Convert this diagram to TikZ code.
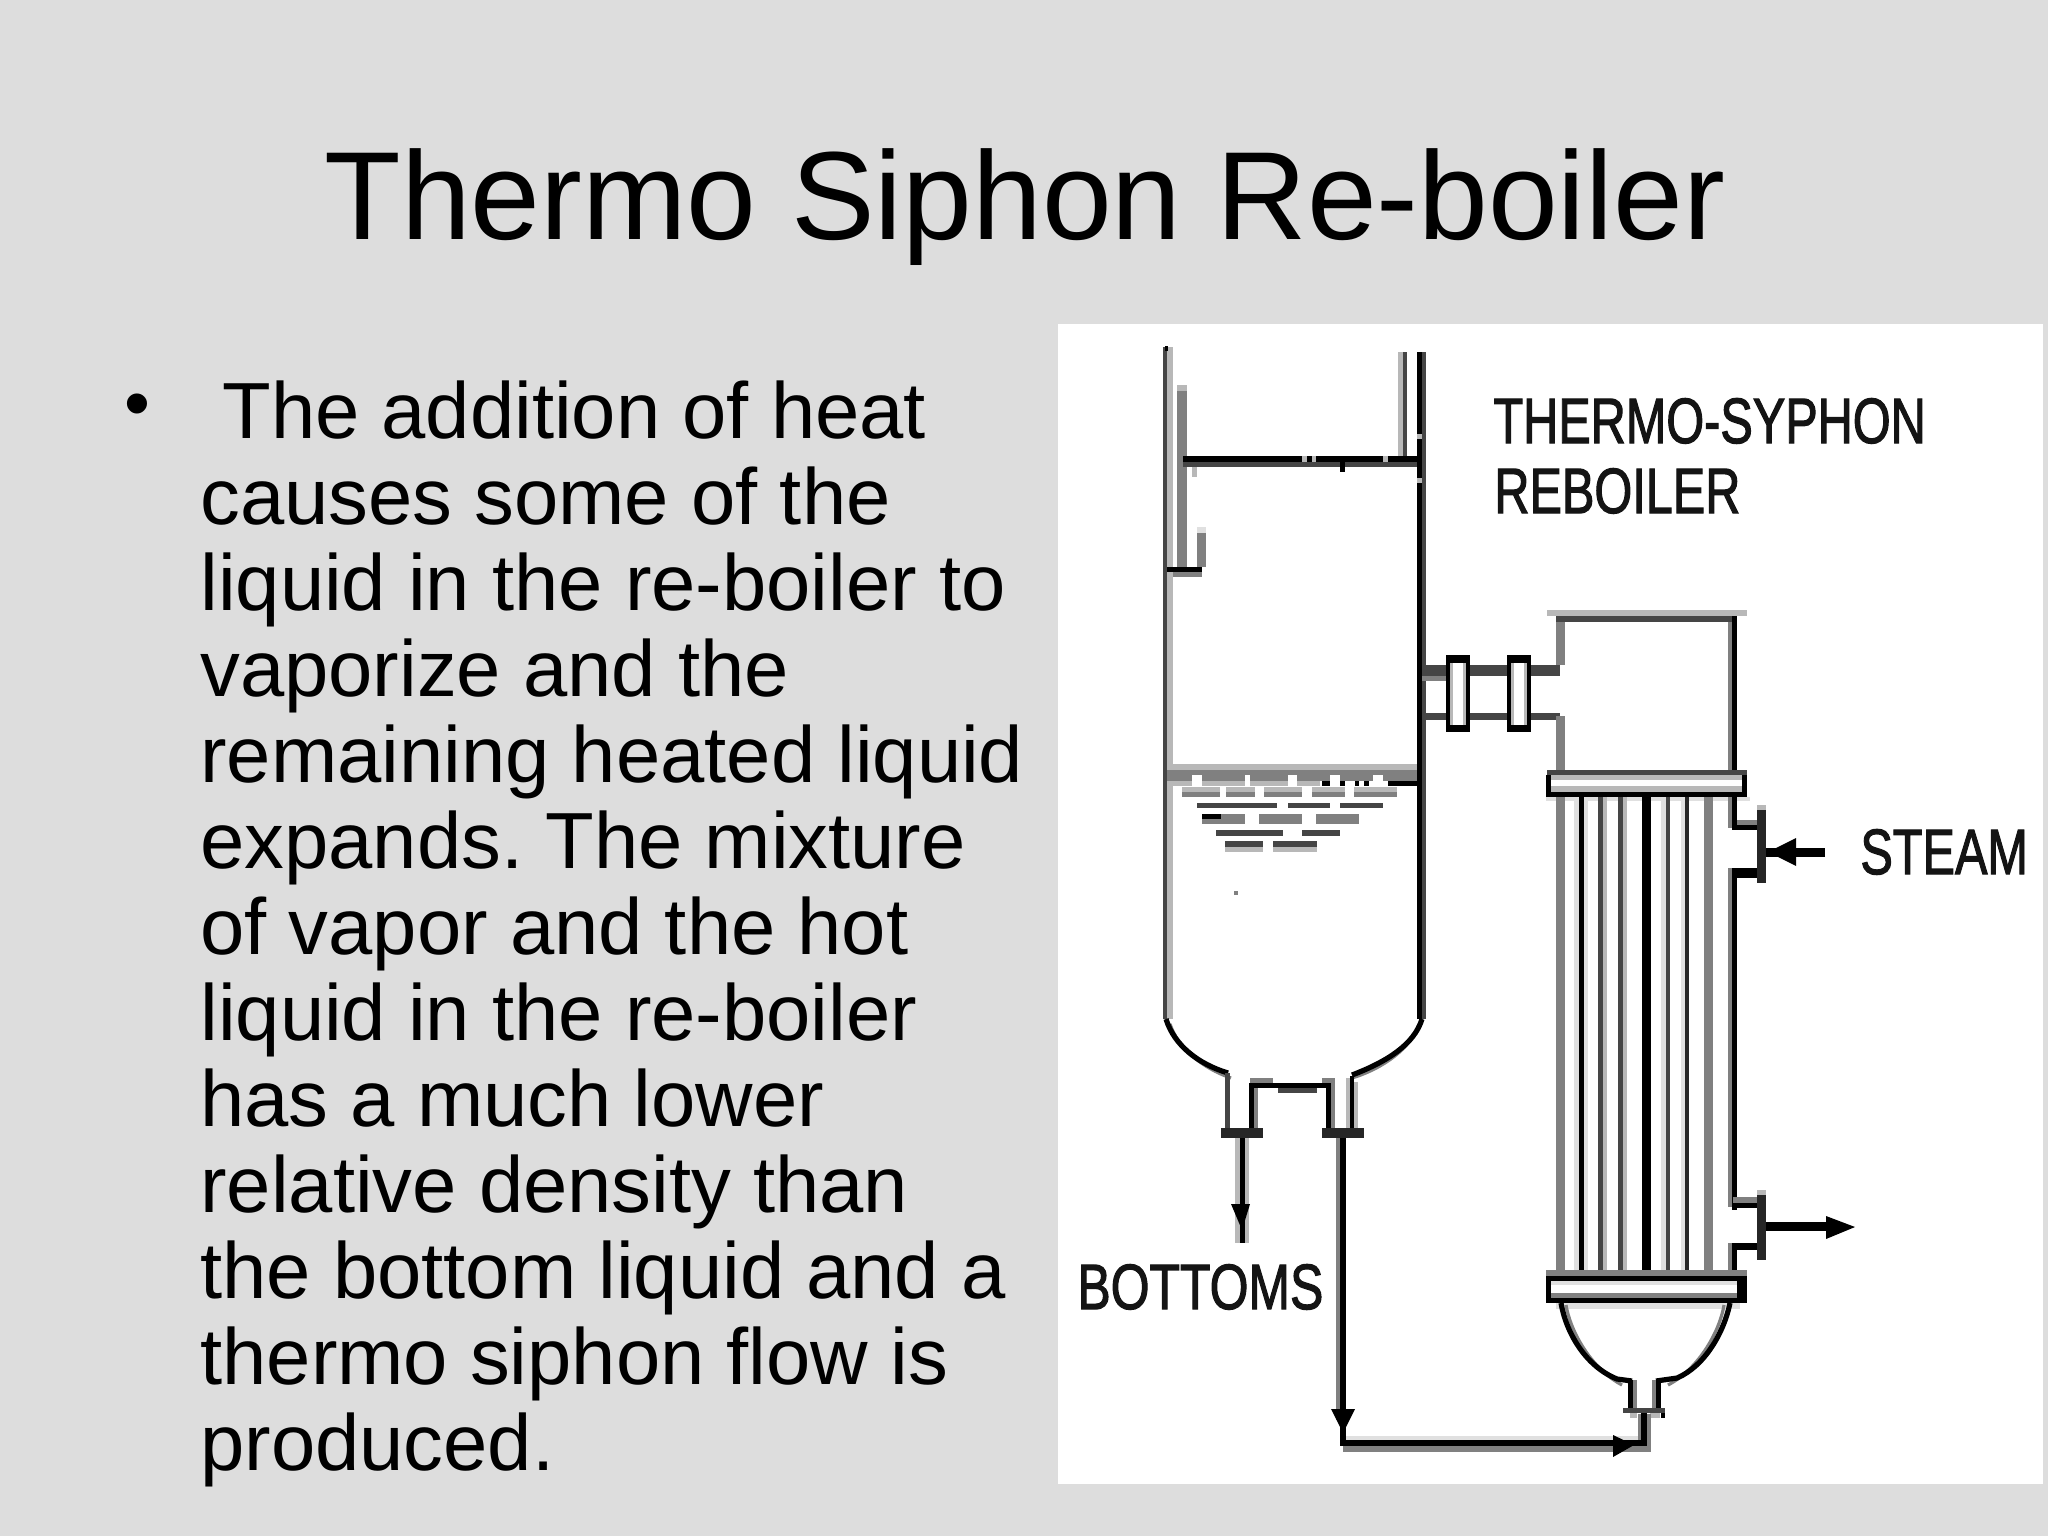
\documentclass[tikz,border=0pt]{standalone}
\usepackage{fontspec}
\usepackage{graphicx}
\setmainfont{Liberation Sans}
\newfontfamily\labfont[FakeBold=2]{Liberation Sans}
\frenchspacing
\definecolor{slidebg}{HTML}{DDDDDD}
\definecolor{darkg}{gray}{0.27}
\definecolor{midg}{gray}{0.50}
\definecolor{lightg}{gray}{0.72}
\definecolor{paleg}{gray}{0.88}
\newcommand{\titlefs}{\fontsize{62.7}{70}\selectfont}
\newcommand{\bodyfs}{\fontsize{39.8}{44}\selectfont}
\newcommand{\labfs}{\fontsize{32}{36}\selectfont\labfont}
\newcommand{\squeezed}[1]{\scalebox{.76}[1]{\labfs #1}}
% filled pixel-aligned block: colour, x1, y1, x2, y2
\newcommand{\blk}[5]{\fill[#1] (#2,#3) rectangle (#4,#5);}
\tikzset{
  bodyline/.style={anchor=base west,inner sep=0pt,font=\bodyfs,text=black},
  lab/.style={anchor=base west,inner sep=0pt,text=black!92},
  curve/.style={draw=black,line width=2.6pt},
  curve shade/.style={draw=midg,line width=1.6pt},
  tip/.style={fill=black,draw=none},
}
\begin{document}
\begin{tikzpicture}[x=0.5pt,y=-0.5pt]
\useasboundingbox (0,0) rectangle (2048,1536);
\fill[slidebg] (0,0) rectangle (2048,1536);
\fill[white] (1058,324) rectangle (2043,1484);

% title and text
\node[anchor=base,inner sep=0pt,font=\titlefs,text=black] (title) at (1025,239) {Thermo Siphon Re-boiler};
\node[inner sep=0pt,font=\fontsize{37}{40}\selectfont,anchor=base] (bullet) at (137,428) {•};
\node[bodyline] (l1) at (222,438) {The addition of heat};
\node[bodyline] (l2) at (200,524) {causes some of the};
\node[bodyline] (l3) at (200,610) {liquid in the re-boiler to};
\node[bodyline] (l4) at (200,696) {vaporize and the};
\node[bodyline] (l5) at (200,782) {remaining heated liquid};
\node[bodyline] (l6) at (200,868) {expands. The mixture};
\node[bodyline] (l7) at (200,954) {of vapor and the hot};
\node[bodyline] (l8) at (200,1040) {liquid in the re-boiler};
\node[bodyline] (l9) at (200,1126) {has a much lower};
\node[bodyline] (l10) at (200,1212) {relative density than};
\node[bodyline] (l11) at (200,1298) {the bottom liquid and a};
\node[bodyline] (l12) at (200,1384) {thermo siphon flow is};
\node[bodyline] (l13) at (200,1470) {produced.};

% labels
\node[lab] (lthermo) at (1493,443) {\squeezed{THERMO-SYPHON}};
\node[lab] (lreb) at (1494,513) {\squeezed{REBOILER}};
\node[lab] (lsteam) at (1860,874) {\squeezed{STEAM}};
\node[lab] (lbot) at (1077,1309) {\scalebox{.78}[1]{\labfs BOTTOMS}};

% column walls
\blk{darkg}{1163}{347}{1167}{1019}
\blk{lightg}{1167}{347}{1173}{1019}
\blk{black}{1165}{346}{1168}{351}
\blk{black}{1417}{352}{1422}{1019}
\blk{darkg}{1422}{352}{1426}{1019}
\blk{lightg}{1417}{434}{1422}{439}
\blk{lightg}{1417}{478}{1422}{483}
\blk{lightg}{1398}{352}{1403}{456}
\blk{darkg}{1403}{352}{1407}{456}
% weir, tray
\blk{lightg}{1177}{385}{1187}{391}
\blk{midg}{1177}{391}{1187}{567}
\blk{paleg}{1197}{527}{1206}{533}
\blk{midg}{1197}{533}{1206}{567}
\blk{black}{1167}{567}{1202}{572}
\blk{midg}{1173}{572}{1202}{577}
\blk{black}{1183}{456}{1417}{462}
\blk{darkg}{1183}{462}{1417}{467}
\blk{lightg}{1302}{456}{1307}{462}
\blk{lightg}{1312}{456}{1316}{462}
\blk{lightg}{1383}{456}{1388}{462}
\blk{lightg}{1192}{467}{1197}{477}
\blk{black}{1340}{462}{1345}{472}

% column bottom head
\draw[curve shade] (1170,1024) .. controls (1178,1048) and (1202,1068) .. (1231,1078);
\draw[curve shade] (1419,1024) .. controls (1411,1048) and (1384,1068) .. (1352,1078);
\draw[curve] (1166,1019) .. controls (1174,1045) and (1198,1064) .. (1228,1073);
\draw[curve] (1422,1019) .. controls (1414,1045) and (1386,1062) .. (1352,1075);
% bottom nozzles
\blk{darkg}{1225}{1073}{1230}{1128}
\blk{black}{1249}{1083}{1254}{1128}
\blk{midg}{1254}{1088}{1258}{1128}
\blk{midg}{1250}{1078}{1273}{1083}
\blk{black}{1250}{1083}{1331}{1088}
\blk{darkg}{1278}{1088}{1317}{1093}
\blk{midg}{1322}{1078}{1335}{1083}
\blk{black}{1326}{1083}{1331}{1128}
\blk{midg}{1331}{1083}{1335}{1128}
\blk{lightg}{1346}{1078}{1350}{1128}
\blk{black}{1350}{1076}{1354}{1128}
\blk{lightg}{1354}{1082}{1358}{1128}
\blk{black!85}{1221}{1128}{1263}{1138}
\blk{black!85}{1322}{1128}{1364}{1138}

% liquid level
\blk{lightg}{1167}{764}{1417}{770}
\blk{midg}{1167}{770}{1417}{781}
\blk{lightg}{1173}{781}{1320}{786}
\blk{black}{1388}{781}{1418}{786}
\foreach \a/\b in {1322/1330,1340/1345,1355/1359,1364/1369}
  {\blk{black}{\a}{781}{\b}{786}}
\foreach \a/\b in {1192/1202,1245/1250,1288/1297,1330/1340,1373/1383}
  {\blk{white}{\a}{775}{\b}{786}}
\foreach \a/\b in {1182/1220,1226/1255,1264/1302,1312/1345,1354/1397}
  {\blk{lightg}{\a}{787}{\b}{792}\blk{midg}{\a}{792}{\b}{797}}
\foreach \a/\b in {1197/1277,1288/1330,1340/1383}
  {\blk{darkg}{\a}{803}{\b}{808}}
\foreach \a/\b in {1202/1245,1259/1302,1316/1359}
  {\blk{midg}{\a}{814}{\b}{824}}
\blk{black}{1202}{814}{1221}{819}
\foreach \a/\b in {1216/1283,1302/1340}
  {\blk{darkg}{\a}{830}{\b}{836}}
\foreach \a/\b in {1225/1263,1273/1317}
  {\blk{darkg}{\a}{841}{\b}{847}\blk{lightg}{\a}{847}{\b}{852}}
\blk{midg}{1234}{891}{1238}{895}

% connecting nozzle and flanges
\blk{darkg}{1422}{665}{1560}{676}
\blk{midg}{1422}{676}{1446}{681}
\blk{darkg}{1422}{713}{1560}{720}
\foreach \a in {1446,1507}{
  \blk{black}{\a}{655}{\a+24}{732}
  \blk{lightg}{\a+4}{663}{\a+20}{725}
  \blk{white}{\a+7}{663}{\a+17}{725}
}

% reboiler channel
\blk{lightg}{1547}{610}{1747}{616}
\blk{darkg}{1556}{616}{1737}{622}
\blk{midg}{1556}{622}{1565}{665}
\blk{midg}{1556}{716}{1565}{770}
\blk{midg}{1728}{622}{1732}{770}
\blk{black}{1732}{616}{1737}{775}

% upper tube sheet
\blk{darkg}{1547}{770}{1747}{775}
\blk{lightg}{1547}{775}{1747}{780}
\blk{white}{1551}{780}{1742}{786}
\blk{lightg}{1551}{786}{1742}{792}
\blk{black}{1546}{775}{1551}{797}
\blk{black}{1742}{775}{1747}{797}
\blk{black}{1546}{792}{1747}{797}
\blk{paleg}{1546}{797}{1750}{801}

% tubes
\blk{midg}{1556}{797}{1565}{1270}
\blk{paleg}{1574}{797}{1579}{1276}
\blk{black}{1579}{797}{1584}{1276}
\blk{paleg}{1584}{797}{1588}{1276}
\blk{darkg}{1598}{797}{1603}{1276}
\blk{lightg}{1603}{797}{1607}{1276}
\blk{darkg}{1618}{797}{1623}{1276}
\blk{lightg}{1623}{797}{1627}{1276}
\blk{black}{1642}{797}{1651}{1276}
\blk{paleg}{1661}{797}{1666}{1276}
\blk{darkg}{1666}{797}{1670}{1276}
\blk{paleg}{1681}{797}{1685}{1276}
\blk{black!85}{1685}{797}{1689}{1276}
\blk{midg}{1704}{797}{1713}{1270}

% shell and steam nozzles
\blk{midg}{1728}{797}{1732}{828}
\blk{black}{1732}{797}{1737}{830}
\blk{midg}{1737}{820}{1757}{825}
\blk{black}{1733}{825}{1757}{830}
\blk{black}{1733}{868}{1757}{878}
\blk{midg}{1728}{868}{1733}{1207}
\blk{black}{1732}{868}{1737}{1210}
\blk{midg}{1733}{1197}{1757}{1203}
\blk{black}{1733}{1203}{1757}{1208}
\blk{black}{1733}{1243}{1757}{1250}
\blk{midg}{1728}{1243}{1732}{1276}
\blk{black}{1732}{1243}{1737}{1276}
\blk{lightg}{1757}{805}{1766}{810}
\blk{black!85}{1757}{810}{1766}{883}
\blk{lightg}{1757}{1190}{1766}{1195}
\blk{black!85}{1757}{1195}{1766}{1260}
\coordinate (steamin) at (1825,852);
\coordinate (steamout) at (1766,852);
\draw[draw=black,line width=4.5] (steamin) -- (steamout);
\fill[tip] (1768,852) -- (1796,838) -- (1796,866) -- cycle;
\coordinate (condin) at (1766,1226);
\coordinate (condout) at (1830,1226);
\draw[draw=black,line width=4.5] (condin) -- (condout);
\fill[tip] (1855,1227) -- (1826,1216) -- (1826,1239) -- cycle;

% lower tube sheet
\blk{midg}{1546}{1270}{1747}{1276}
\blk{black}{1546}{1276}{1747}{1281}
\blk{paleg}{1551}{1281}{1737}{1285}
\blk{white}{1551}{1285}{1737}{1293}
\blk{midg}{1551}{1293}{1737}{1298}
\blk{black}{1546}{1298}{1747}{1303}
\blk{black}{1546}{1276}{1551}{1303}
\blk{black}{1737}{1276}{1747}{1303}
\blk{paleg}{1556}{1303}{1740}{1309}

% lower head
\draw[curve shade] (1566,1305) .. controls (1570,1330) and (1590,1368) .. (1622,1385);
\draw[curve shade] (1724,1305) .. controls (1720,1330) and (1700,1368) .. (1668,1385);
\draw[curve] (1561,1303) .. controls (1566,1332) and (1585,1366) .. (1617,1379) -- (1632,1381);
\draw[curve] (1730,1303) .. controls (1724,1332) and (1705,1366) .. (1677,1378) -- (1656,1381);
\blk{black}{1628}{1380}{1633}{1408}
\blk{midg}{1633}{1380}{1637}{1408}
\blk{midg}{1652}{1380}{1656}{1408}
\blk{black}{1656}{1380}{1661}{1408}
\blk{darkg}{1623}{1408}{1665}{1413}
\blk{lightg}{1630}{1413}{1637}{1418}
\blk{lightg}{1650}{1413}{1660}{1418}
\blk{black}{1661}{1413}{1665}{1418}

% recycle pipe
\coordinate (riser) at (1343,1138);
\coordinate (corner1) at (1343,1443);
\coordinate (corner2) at (1644,1443);
\coordinate (nozzle) at (1644,1413);
\blk{paleg}{1345}{1436}{1640}{1441}
\blk{midg}{1343}{1446}{1651}{1452}
\blk{midg}{1336}{1138}{1341}{1420}
\blk{midg}{1638}{1414}{1642}{1441}
\blk{midg}{1646}{1414}{1651}{1452}
\draw[draw=black,line width=2.6pt,line join=miter] (riser) -- (corner1) -- (corner2) -- (nozzle);
\fill[tip] (1343,1433) -- (1331,1409) -- (1355,1409) -- cycle;
\fill[tip] (1634,1445) -- (1613,1435) -- (1613,1457) -- cycle;

% bottoms pipe
\coordinate (botin) at (1242,1138);
\coordinate (botout) at (1242,1243);
\blk{lightg}{1235}{1138}{1240}{1243}
\blk{lightg}{1245}{1138}{1249}{1243}
\draw[draw=black,line width=2.5pt] (botin) -- (botout);
\fill[tip] (1242,1230) -- (1231,1204) -- (1250,1204) -- cycle;
\end{tikzpicture}
\end{document}
